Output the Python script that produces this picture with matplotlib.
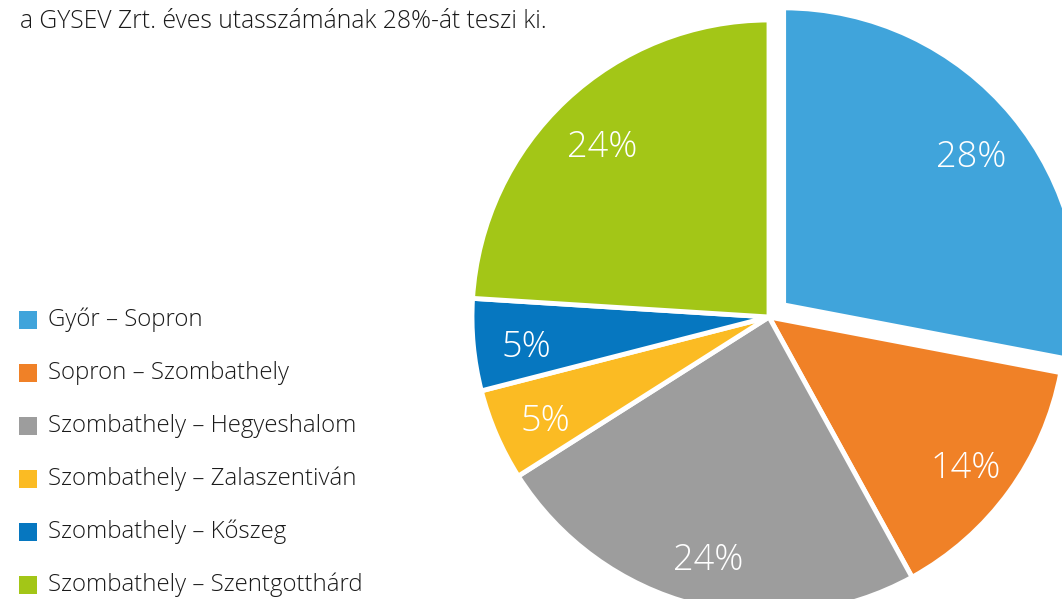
import matplotlib
matplotlib.use("Agg")
import matplotlib.pyplot as plt

# data
routes = ["Győr – Sopron", "Sopron – Szombathely", "Szombathely – Hegyeshalom",
          "Szombathely – Zalaszentiván", "Szombathely – Kőszeg", "Szombathely – Szentgotthárd"]
shares = [28, 14, 24, 5, 5, 24]
colors = ["#40A4DB", "#F08127", "#9D9D9D", "#FBBB23", "#0677C0", "#A3C617"]
explode = [19, 0, 0, 0, 0, 0]

plt.rcParams['font.family'] = ['Open Sans', 'DejaVu Sans']

W, H = 1062, 599
fig = plt.figure(figsize=(W / 100, H / 100), dpi=100)
ax = fig.add_axes([0, 0, 1, 1])
ax.set_aspect('equal')
ax.axis('off')

wedges, texts, autotexts = ax.pie(
    shares, colors=colors, explode=explode, startangle=90, counterclock=False,
    center=(769, H - 317), radius=297, autopct='%d%%', pctdistance=0.82,
    wedgeprops=dict(edgecolor='white', linewidth=3.5),
    textprops=dict(color='white', fontsize=26, fontweight='light'))
# labels sit a little lower in the original
for t in autotexts:
    x, y = t.get_position()
    t.set_position((x, y - 8))
ax.set_xlim(0, W)
ax.set_ylim(0, H)

# caption (upper line is cut off in the original)
ax.text(20, H - 22, "a GYSEV Zrt. éves utasszámának 28%-át teszi ki.",
        fontsize=17.8, fontweight='light', color='#1a1a1a', va='center', ha='left')

# legend
for i, (lab, col) in enumerate(zip(routes, colors)):
    y = H - 320 - i * 53
    ax.scatter(28, y, marker='s', s=150, color=col, linewidths=0, clip_on=False)
    ax.text(48, y, lab, fontsize=17.3, fontweight='light', color='#1a1a1a',
            va='center', ha='left')

fig.savefig("out.png", dpi=100)
